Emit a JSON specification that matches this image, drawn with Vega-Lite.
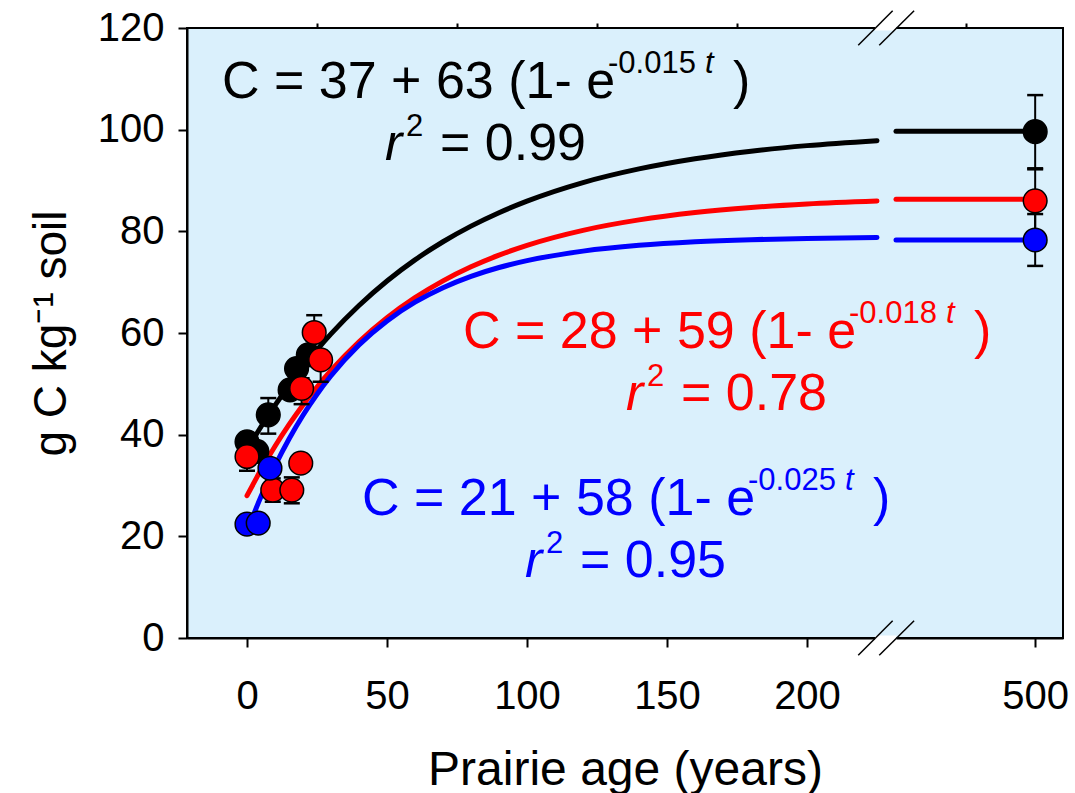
{
"$schema": "https://vega.github.io/schema/vega-lite/v6.json",
"width": 876, "height": 610,
"autosize": {"type": "none"},
"padding": {"left": 187, "top": 28, "right": 12, "bottom": 155},
"background": "white",
"datasets": {
"curves": [
{"series":"black","seg":"L","t":0,"C":37.0},{"series":"black","seg":"L","t":5,"C":41.55},{"series":"black","seg":"L","t":10,"C":45.78},{"series":"black","seg":"L","t":15,"C":49.69},{"series":"black","seg":"L","t":20,"C":53.33},{"series":"black","seg":"L","t":25,"C":56.7},{"series":"black","seg":"L","t":30,"C":59.83},{"series":"black","seg":"L","t":40,"C":65.42},{"series":"black","seg":"L","t":50,"C":70.24},{"series":"black","seg":"L","t":60,"C":74.39},{"series":"black","seg":"L","t":70,"C":77.95},{"series":"black","seg":"L","t":80,"C":81.02},{"series":"black","seg":"L","t":90,"C":83.67},{"series":"black","seg":"L","t":100,"C":85.94},{"series":"black","seg":"L","t":120,"C":89.59},{"series":"black","seg":"L","t":140,"C":92.28},{"series":"black","seg":"L","t":160,"C":94.28},{"series":"black","seg":"L","t":180,"C":95.77},{"series":"black","seg":"L","t":200,"C":96.86},{"series":"black","seg":"L","t":225,"C":97.84},
{"series":"black","seg":"R","t":450,"C":99.7},{"series":"black","seg":"R","t":500,"C":99.7},
{"series":"red","seg":"L","t":0,"C":28.0},{"series":"red","seg":"L","t":5,"C":33.08},{"series":"red","seg":"L","t":10,"C":37.72},{"series":"red","seg":"L","t":15,"C":41.96},{"series":"red","seg":"L","t":20,"C":45.84},{"series":"red","seg":"L","t":25,"C":49.38},{"series":"red","seg":"L","t":30,"C":52.62},{"series":"red","seg":"L","t":40,"C":58.28},{"series":"red","seg":"L","t":50,"C":63.01},{"series":"red","seg":"L","t":60,"C":66.96},{"series":"red","seg":"L","t":70,"C":70.26},{"series":"red","seg":"L","t":80,"C":73.02},{"series":"red","seg":"L","t":90,"C":75.32},{"series":"red","seg":"L","t":100,"C":77.25},{"series":"red","seg":"L","t":120,"C":80.2},{"series":"red","seg":"L","t":140,"C":82.25},{"series":"red","seg":"L","t":160,"C":83.69},{"series":"red","seg":"L","t":180,"C":84.69},{"series":"red","seg":"L","t":200,"C":85.39},{"series":"red","seg":"L","t":225,"C":85.97},
{"series":"red","seg":"R","t":450,"C":86.3},{"series":"red","seg":"R","t":500,"C":86.3},
{"series":"blue","seg":"L","t":0,"C":21.0},{"series":"blue","seg":"L","t":5,"C":27.82},{"series":"blue","seg":"L","t":10,"C":33.83},{"series":"blue","seg":"L","t":15,"C":39.14},{"series":"blue","seg":"L","t":20,"C":43.82},{"series":"blue","seg":"L","t":25,"C":47.96},{"series":"blue","seg":"L","t":30,"C":51.6},{"series":"blue","seg":"L","t":40,"C":57.66},{"series":"blue","seg":"L","t":50,"C":62.38},{"series":"blue","seg":"L","t":60,"C":66.06},{"series":"blue","seg":"L","t":70,"C":68.92},{"series":"blue","seg":"L","t":80,"C":71.15},{"series":"blue","seg":"L","t":90,"C":72.89},{"series":"blue","seg":"L","t":100,"C":74.24},{"series":"blue","seg":"L","t":120,"C":76.11},{"series":"blue","seg":"L","t":140,"C":77.25},{"series":"blue","seg":"L","t":160,"C":77.94},{"series":"blue","seg":"L","t":180,"C":78.36},{"series":"blue","seg":"L","t":200,"C":78.61},{"series":"blue","seg":"L","t":225,"C":78.79},
{"series":"blue","seg":"R","t":450,"C":78.3},{"series":"blue","seg":"R","t":500,"C":78.3}
],
"pts": [
{"series":"black","t":0,"C":38.6,"lo":37.4,"hi":39.8},
{"series":"black","t":3.5,"C":36.7,"lo":35.7,"hi":37.7},
{"series":"black","t":7.6,"C":43.9,"lo":40.2,"hi":47.2},
{"series":"black","t":15.4,"C":48.8,"lo":47.8,"hi":49.8},
{"series":"black","t":17.7,"C":53.0,"lo":52.0,"hi":54.0},
{"series":"black","t":21.9,"C":55.7,"lo":54.2,"hi":57.2},
{"series":"black","t":500,"C":99.6,"lo":92.4,"hi":106.8},
{"series":"red","t":0,"C":35.7,"lo":32.9,"hi":38.5},
{"series":"red","t":9.2,"C":29.1,"lo":26.8,"hi":31.4},
{"series":"red","t":16.0,"C":29.1,"lo":26.5,"hi":31.6},
{"series":"red","t":19.2,"C":34.4,"lo":33.4,"hi":35.4},
{"series":"red","t":19.5,"C":49.1,"lo":46.0,"hi":51.1},
{"series":"red","t":24.0,"C":60.1,"lo":56.7,"hi":63.5},
{"series":"red","t":26.3,"C":54.7,"lo":50.4,"hi":59.0},
{"series":"red","t":500,"C":86.0,"lo":79.8,"hi":92.2},
{"series":"blue","t":0,"C":22.4,"lo":21.9,"hi":22.9},
{"series":"blue","t":4,"C":22.6,"lo":22.1,"hi":23.1},
{"series":"blue","t":8.2,"C":33.4,"lo":32.4,"hi":34.4},
{"series":"blue","t":500,"C":78.3,"lo":73.2,"hi":83.4}
],
"eq": [
{"series":"black","t":-8.93,"C":106.23,"main":"C = 37 + 63 (1- e","expo":"-0.015","r2":"= 0.99"},
{"series":"red","t":77.14,"C":57.05,"main":"C = 28 + 59 (1- e","expo":"-0.018","r2":"= 0.78"},
{"series":"blue","t":41.07,"C":24.2,"main":"C = 21 + 58 (1- e","expo":"-0.025","r2":"= 0.95"}
],
"slash": [
{"t":218.3,"C":-3.4,"t2":448.8,"C2":3.4},
{"t":225.8,"C":-3.4,"t2":456.5,"C2":3.4},
{"t":218.3,"C":116.6,"t2":448.8,"C2":123.4},
{"t":225.8,"C":116.6,"t2":456.5,"C2":123.4}
],
"gap": [
{"t":224.3,"t2":450.2,"C":0},
{"t":224.3,"t2":450.2,"C":120}
]
},
"layer": [
{"data":{"name":"curves"},
 "mark":{"type":"line","strokeWidth":5,"interpolate":"monotone","strokeCap":"round"},
 "encoding":{
  "x":{"field":"t","type":"quantitative","scale":{"type":"linear","domain":[-21.43,230,448.2,510],"range":[0,704,704,876],"nice":false,"zero":false},
       "axis":{"values":[0,50,100,150,200,500],"tickSize":9,"labelPadding":29,"title":"Prairie age (years)","titlePadding":30,"titleFontSize":48,"labelFlush":false,"labelOverlap":false}},
  "y":{"field":"C","type":"quantitative","scale":{"domain":[0,120],"nice":false,"zero":false},"title":"g C kg⁻¹ soil",
       "axis":{"values":[0,20,40,60,80,100,120],"tickSize":9,"labelPadding":14,"titlePadding":22,"labelFlush":false}},
  "color":{"field":"series","type":"nominal","scale":{"domain":["black","red","blue"],"range":["#000000","#ff0000","#0000ff"]},"legend":null},
  "detail":{"field":"seg"}
 }},
{"data":{"name":"gap"},
 "mark":{"type":"rule","stroke":"white","strokeWidth":5},
 "encoding":{
  "x":{"field":"t","type":"quantitative","scale":{"type":"linear","domain":[-21.43,230,448.2,510],"range":[0,704,704,876],"nice":false,"zero":false},"axis":null},
  "x2":{"field":"t2"},
  "y":{"field":"C","type":"quantitative","scale":{"domain":[0,120],"nice":false,"zero":false},"title":"g C kg⁻¹ soil"}
 }},
{"data":{"name":"slash"},
 "mark":{"type":"rule","stroke":"black","strokeWidth":1.5},
 "encoding":{
  "x":{"field":"t","type":"quantitative","scale":{"type":"linear","domain":[-21.43,230,448.2,510],"range":[0,704,704,876],"nice":false,"zero":false},"axis":null},
  "x2":{"field":"t2"},
  "y":{"field":"C","type":"quantitative","scale":{"domain":[0,120],"nice":false,"zero":false},"title":"g C kg⁻¹ soil"},
  "y2":{"field":"C2"}
 }},
{"data":{"name":"pts"},
 "mark":{"type":"rule","stroke":"black","strokeWidth":2},
 "encoding":{
  "x":{"field":"t","type":"quantitative","scale":{"type":"linear","domain":[-21.43,230,448.2,510],"range":[0,704,704,876],"nice":false,"zero":false},"axis":null},
  "y":{"field":"lo","type":"quantitative","scale":{"domain":[0,120],"nice":false,"zero":false},"title":"g C kg⁻¹ soil"},
  "y2":{"field":"hi"}
 }},
{"data":{"name":"pts"},
 "mark":{"type":"tick","orient":"horizontal","color":"black","size":16,"thickness":2.5,"opacity":1},
 "encoding":{
  "x":{"field":"t","type":"quantitative","scale":{"type":"linear","domain":[-21.43,230,448.2,510],"range":[0,704,704,876],"nice":false,"zero":false},"axis":null},
  "y":{"field":"lo","type":"quantitative","scale":{"domain":[0,120],"nice":false,"zero":false},"title":"g C kg⁻¹ soil"}
 }},
{"data":{"name":"pts"},
 "mark":{"type":"tick","orient":"horizontal","color":"black","size":16,"thickness":2.5,"opacity":1},
 "encoding":{
  "x":{"field":"t","type":"quantitative","scale":{"type":"linear","domain":[-21.43,230,448.2,510],"range":[0,704,704,876],"nice":false,"zero":false},"axis":null},
  "y":{"field":"hi","type":"quantitative","scale":{"domain":[0,120],"nice":false,"zero":false},"title":"g C kg⁻¹ soil"}
 }},
{"data":{"name":"pts"},
 "mark":{"type":"point","shape":"circle","filled":true,"size":560,"stroke":"black","strokeWidth":1.5,"opacity":1},
 "encoding":{
  "x":{"field":"t","type":"quantitative","scale":{"type":"linear","domain":[-21.43,230,448.2,510],"range":[0,704,704,876],"nice":false,"zero":false},
       "axis":{"values":[25,75,125,175,475],"labels":false,"domain":false,"tickSize":5,"title":null}},
  "y":{"field":"C","type":"quantitative","scale":{"domain":[0,120],"nice":false,"zero":false},"title":"g C kg⁻¹ soil"},
  "color":{"field":"series","type":"nominal","scale":{"domain":["black","red","blue"],"range":["#000000","#ff0000","#0000ff"]},"legend":null}
 }},
{"data":{"name":"eq"},
 "mark":{"type":"text","fontSize":52,"align":"left","baseline":"alphabetic"},
 "encoding":{
  "x":{"field":"t","type":"quantitative","scale":{"type":"linear","domain":[-21.43,230,448.2,510],"range":[0,704,704,876],"nice":false,"zero":false},"axis":null},
  "y":{"field":"C","type":"quantitative","scale":{"domain":[0,120],"nice":false,"zero":false},"title":"g C kg⁻¹ soil"},
  "text":{"field":"main"},
  "color":{"field":"series","type":"nominal","scale":{"domain":["black","red","blue"],"range":["#000000","#ff0000","#0000ff"]},"legend":null}
 }},
{"data":{"name":"eq"},
 "mark":{"type":"text","fontSize":31,"align":"left","baseline":"alphabetic","dx":386,"dy":-25},
 "encoding":{
  "x":{"field":"t","type":"quantitative","scale":{"type":"linear","domain":[-21.43,230,448.2,510],"range":[0,704,704,876],"nice":false,"zero":false},"axis":null},
  "y":{"field":"C","type":"quantitative","scale":{"domain":[0,120],"nice":false,"zero":false},"title":"g C kg⁻¹ soil"},
  "text":{"field":"expo"},
  "color":{"field":"series","type":"nominal","scale":{"domain":["black","red","blue"],"range":["#000000","#ff0000","#0000ff"]},"legend":null}
 }},
{"data":{"name":"eq"},
 "mark":{"type":"text","fontSize":31,"fontStyle":"italic","align":"left","baseline":"alphabetic","dx":483,"dy":-25},
 "encoding":{
  "x":{"field":"t","type":"quantitative","scale":{"type":"linear","domain":[-21.43,230,448.2,510],"range":[0,704,704,876],"nice":false,"zero":false},"axis":null},
  "y":{"field":"C","type":"quantitative","scale":{"domain":[0,120],"nice":false,"zero":false},"title":"g C kg⁻¹ soil"},
  "text":{"value":"t"},
  "color":{"field":"series","type":"nominal","scale":{"domain":["black","red","blue"],"range":["#000000","#ff0000","#0000ff"]},"legend":null}
 }},
{"data":{"name":"eq"},
 "mark":{"type":"text","fontSize":52,"align":"left","baseline":"alphabetic","dx":511},
 "encoding":{
  "x":{"field":"t","type":"quantitative","scale":{"type":"linear","domain":[-21.43,230,448.2,510],"range":[0,704,704,876],"nice":false,"zero":false},"axis":null},
  "y":{"field":"C","type":"quantitative","scale":{"domain":[0,120],"nice":false,"zero":false},"title":"g C kg⁻¹ soil"},
  "text":{"value":")"},
  "color":{"field":"series","type":"nominal","scale":{"domain":["black","red","blue"],"range":["#000000","#ff0000","#0000ff"]},"legend":null}
 }},
{"data":{"name":"eq"},
 "mark":{"type":"text","fontSize":52,"fontStyle":"italic","align":"left","baseline":"alphabetic","dx":163,"dy":62},
 "encoding":{
  "x":{"field":"t","type":"quantitative","scale":{"type":"linear","domain":[-21.43,230,448.2,510],"range":[0,704,704,876],"nice":false,"zero":false},"axis":null},
  "y":{"field":"C","type":"quantitative","scale":{"domain":[0,120],"nice":false,"zero":false},"title":"g C kg⁻¹ soil"},
  "text":{"value":"r"},
  "color":{"field":"series","type":"nominal","scale":{"domain":["black","red","blue"],"range":["#000000","#ff0000","#0000ff"]},"legend":null}
 }},
{"data":{"name":"eq"},
 "mark":{"type":"text","fontSize":31,"align":"left","baseline":"alphabetic","dx":184,"dy":38},
 "encoding":{
  "x":{"field":"t","type":"quantitative","scale":{"type":"linear","domain":[-21.43,230,448.2,510],"range":[0,704,704,876],"nice":false,"zero":false},"axis":null},
  "y":{"field":"C","type":"quantitative","scale":{"domain":[0,120],"nice":false,"zero":false},"title":"g C kg⁻¹ soil"},
  "text":{"value":"2"},
  "color":{"field":"series","type":"nominal","scale":{"domain":["black","red","blue"],"range":["#000000","#ff0000","#0000ff"]},"legend":null}
 }},
{"data":{"name":"eq"},
 "mark":{"type":"text","fontSize":52,"align":"left","baseline":"alphabetic","dx":218,"dy":62},
 "encoding":{
  "x":{"field":"t","type":"quantitative","scale":{"type":"linear","domain":[-21.43,230,448.2,510],"range":[0,704,704,876],"nice":false,"zero":false},"axis":null},
  "y":{"field":"C","type":"quantitative","scale":{"domain":[0,120],"nice":false,"zero":false},"title":"g C kg⁻¹ soil"},
  "text":{"field":"r2"},
  "color":{"field":"series","type":"nominal","scale":{"domain":["black","red","blue"],"range":["#000000","#ff0000","#0000ff"]},"legend":null}
 }}
],
"resolve": {"axis": {"x": "independent"}},
"config": {
 "font": "Liberation Sans",
 "view": {"fill": "#DAF0FC", "stroke": "#000000", "strokeWidth": 2},
 "axis": {"domainColor": "#000000", "domainWidth": 2, "tickColor": "#000000", "tickWidth": 2, "labelColor": "#000000", "titleColor": "#000000", "labelFont": "Liberation Sans", "titleFont": "Liberation Sans", "labelFontSize": 40, "titleFontSize": 46, "titleFontWeight": "normal", "grid": false}
}
}
